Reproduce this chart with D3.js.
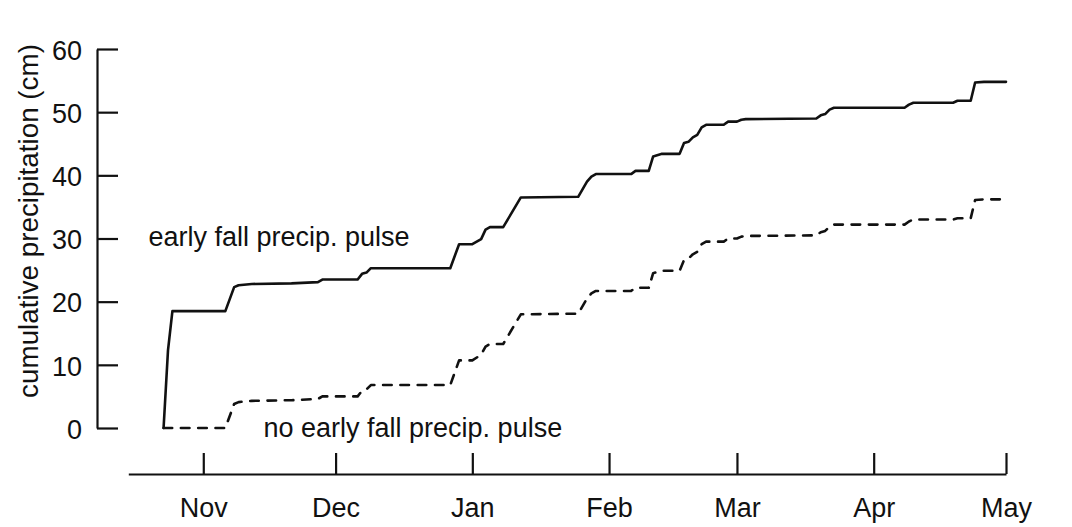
<!DOCTYPE html>
<html>
<head>
<meta charset="utf-8">
<script src="https://cdn.jsdelivr.net/npm/d3@7"></script>
<style>
  body { margin: 0; background: #fff; }
  svg text { font-family: "Liberation Sans", Arial, Helvetica, sans-serif; fill: #111; }
</style>
</head>
<body>
<svg id="chart" width="1072" height="527"></svg>
<script>
// days with readings (cumulative series, Oct 2011 - May 2012)
var days = ["2011-10-23","2011-10-24","2011-10-25","2011-11-06","2011-11-08","2011-11-09",
    "2011-11-12","2011-11-21","2011-11-27","2011-11-28","2011-12-06","2011-12-07","2011-12-08",
    "2011-12-09","2011-12-27","2011-12-29","2012-01-01","2012-01-03","2012-01-04","2012-01-05",
    "2012-01-08","2012-01-12","2012-01-25","2012-01-27","2012-01-28","2012-01-29","2012-02-06",
    "2012-02-07","2012-02-10","2012-02-11","2012-02-13","2012-02-17","2012-02-18","2012-02-19",
    "2012-02-20","2012-02-21","2012-02-22","2012-02-23","2012-02-27","2012-02-28","2012-03-01",
    "2012-03-02","2012-03-03","2012-03-19","2012-03-20","2012-03-21","2012-03-22","2012-03-23",
    "2012-04-08","2012-04-09","2012-04-10","2012-04-19","2012-04-20","2012-04-23","2012-04-24",
    "2012-04-26","2012-05-01"];

// early fall precip. pulse (cm)
var withPulse = [0, 12.3, 18.5, 18.5, 22.3, 22.6, 22.8, 22.9, 23.1, 23.5, 23.5, 24.4, 24.6,
    25.3, 25.3, 29.1, 29.1, 29.9, 31.4, 31.8, 31.8, 36.5, 36.6, 39.0, 39.8, 40.2, 40.2,
    40.7, 40.7, 43.0, 43.4, 43.4, 45.1, 45.3, 46.0, 46.4, 47.6, 48.0, 48.0, 48.5, 48.5,
    48.8, 48.9, 49.0, 49.5, 49.7, 50.4, 50.7, 50.7, 51.2, 51.5, 51.5, 51.8, 51.8, 54.7,
    54.8, 54.8];

// no early fall precip. pulse (cm)
var noPulse = [0, 0, 0, 0, 3.8, 4.1, 4.3, 4.4, 4.6, 5.0, 5.0, 5.9, 6.1,
    6.8, 6.8, 10.7, 10.7, 11.6, 12.9, 13.3, 13.3, 18.0, 18.1, 20.5, 21.3, 21.7, 21.7,
    22.2, 22.2, 24.5, 24.9, 24.9, 26.6, 26.8, 27.5, 27.9, 29.1, 29.5, 29.5, 30.0, 30.0,
    30.3, 30.4, 30.5, 31.0, 31.2, 31.9, 32.2, 32.2, 32.7, 33.0, 33.0, 33.2, 33.2, 36.1,
    36.2, 36.2];

var yTicks = [0, 10, 20, 30, 40, 50, 60];
var xStart = "2011-10-15", xEnd = "2012-05-01";

var parse = d3.utcParse("%Y-%m-%d");
var svg = d3.select("#chart");
var fontSize = 27;

var x = d3.scaleUtc()
    .domain([parse(xStart), parse(xEnd)])
    .range([128.3, 1006]);
var y = d3.scaleLinear()
    .domain([0, 60])
    .range([428, 49]);

// axes - ticks point inward
var yAxis = d3.axisLeft(y).tickValues(yTicks).tickSizeInner(-21).tickSizeOuter(0).tickPadding(15);
var xAxis = d3.axisBottom(x).ticks(d3.utcMonth.every(1)).tickFormat(d3.utcFormat("%b"))
    .tickSizeInner(-21).tickSizeOuter(0).tickPadding(24);

var gy = svg.append("g").attr("transform", "translate(97,0)").call(yAxis);
var gx = svg.append("g").attr("transform", "translate(0,474)").call(xAxis);

[gy, gx].forEach(function(g) {
    g.selectAll("path, line").attr("stroke", "#111").attr("stroke-width", 2.2);
    g.selectAll("text").attr("font-size", fontSize).attr("fill", "#111")
        .style("font-family", "'Liberation Sans', Arial, Helvetica, sans-serif");
});
gy.selectAll("text").attr("dy", "0.38em");

// lines
var series = [
    { values: withPulse, dash: null },
    { values: noPulse, dash: "8.6,8.7" }
];
var line = d3.line()
    .x(function(d) { return x(d[0]); })
    .y(function(d) { return y(d[1]); });

series.forEach(function(s) {
    var pts = days.map(function(d, i) { return [parse(d), s.values[i]]; });
    svg.append("path")
        .datum(pts)
        .attr("d", line)
        .attr("fill", "none")
        .attr("stroke", "#111")
        .attr("stroke-width", 2.6)
        .attr("stroke-linejoin", "round")
        .attr("stroke-linecap", "round")
        .attr("stroke-dasharray", s.dash);
});

// labels
svg.append("text")
    .attr("transform", "translate(38,221) rotate(-90)")
    .attr("text-anchor", "middle")
    .attr("font-size", 27.8)
    .text("cumulative precipitation (cm)");

svg.append("text").attr("x", 148.5).attr("y", 246).attr("font-size", fontSize)
    .text("early fall precip. pulse");
svg.append("text").attr("x", 263.5).attr("y", 437).attr("font-size", fontSize)
    .text("no early fall precip. pulse");
</script>
</body>
</html>
